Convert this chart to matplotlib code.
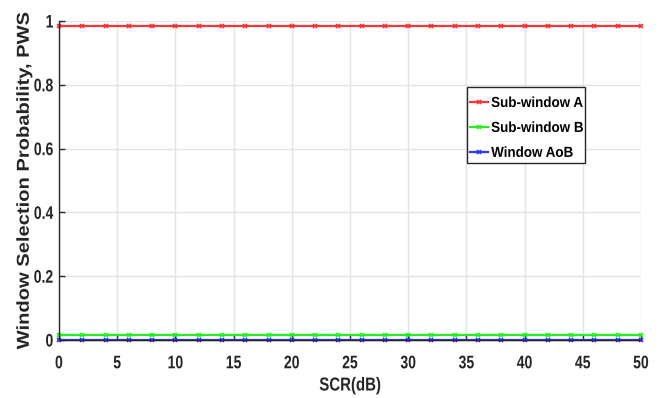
import numpy as np
import matplotlib
matplotlib.use('Agg')
import matplotlib.pyplot as plt
import matplotlib.patheffects as pe
from matplotlib.patches import Rectangle
from matplotlib.transforms import Affine2D

# SCR sweep and window selection probabilities
scr_db = [0, 2, 4, 6, 8, 10, 12, 14, 16, 18, 20, 22, 24, 26, 28, 30,
          32, 34, 36, 38, 40, 42, 44, 46, 48, 50]
pws_a = [0.983] * len(scr_db)
pws_b = [0.017] * len(scr_db)
pws_aob = [0.0] * len(scr_db)


class SqueezeX(pe.AbstractPathEffect):
    """Narrow a text path horizontally (condensed Helvetica look)."""

    def __init__(self, sx, anchor='center'):
        super().__init__()
        self.sx = sx
        self.anchor = anchor

    def draw_path(self, renderer, gc, tpath, affine, rgbFace=None):
        verts = affine.transform(tpath.vertices)
        if len(verts):
            if self.anchor == 'right':
                x0 = verts[:, 0].max()
            elif self.anchor == 'left':
                x0 = verts[:, 0].min()
            else:
                x0 = 0.5 * (verts[:, 0].min() + verts[:, 0].max())
            affine = affine + Affine2D().translate(-x0, 0).scale(self.sx, 1).translate(x0, 0)
        renderer.draw_path(gc, tpath, affine, rgbFace)


font = ['Liberation Sans', 'DejaVu Sans']
ink = '#262626'
W, H = 666, 398

fig = plt.figure(figsize=(W / 100, H / 100), dpi=100)
ax = fig.add_axes([59 / W, 58 / H, 582 / W, 319 / H])

ax.plot(scr_db, pws_a, color='#ff3333', lw=1.6, marker='x', ms=3, mew=1.2,
        label='Sub-window A', clip_on=False)
ax.plot(scr_db, pws_b, color='#22ee22', lw=1.6, marker='x', ms=3, mew=1.2,
        label='Sub-window B', clip_on=False)
ax.plot(scr_db, pws_aob, color='#3333ff', lw=1.6, marker='x', ms=3, mew=1.2,
        label='Window AoB', clip_on=False)

ax.set_xlim(0, 50)
ax.set_ylim(0, 1)
ax.set_xticks(np.arange(0, 51, 5))
ax.set_yticks([0, 0.2, 0.4, 0.6, 0.8, 1])
ax.set_yticklabels(['0', '0.2', '0.4', '0.6', '0.8', '1'])
ax.grid(True, color='#e4e4e4', lw=1)
ax.set_axisbelow(True)

for s in ['top', 'right']:
    ax.spines[s].set_visible(False)
for s in ['left', 'bottom']:
    ax.spines[s].set_color(ink)
    ax.spines[s].set_linewidth(1)

ax.tick_params(direction='in', length=4, width=1, color=ink)
ax.tick_params(axis='x', pad=11)
ax.tick_params(axis='y', pad=4)
for lab in ax.get_xticklabels():
    lab.set_fontfamily(font)
    lab.set_fontweight('bold')
    lab.set_fontsize(13.1)
    lab.set_color(ink)
    lab.set_path_effects([SqueezeX(0.77)])
for lab in ax.get_yticklabels():
    lab.set_fontfamily(font)
    lab.set_fontweight('bold')
    lab.set_fontsize(13.1)
    lab.set_color(ink)
    lab.set_path_effects([SqueezeX(0.77, 'right')])

fig.text(350 / W, 1 - 386 / H, 'SCR(dB)', family=font, fontweight='bold',
         fontsize=13.5, color=ink, ha='center', va='center',
         path_effects=[SqueezeX(0.8)])
fig.text(24 / W, 1 - 181 / H, 'Window Selection Probability, PWS',
         family=font, fontweight='bold', fontsize=14.5, color=ink,
         rotation=90, ha='center', va='center',
         path_effects=[SqueezeX(0.86)])

# legend box (MATLAB-style, tight on the sides)
ax.add_patch(Rectangle((467 / W, 1 - 163 / H), 118 / W, 76 / H,
                       transform=fig.transFigure, facecolor='white',
                       edgecolor=ink, lw=1, zorder=4.5, clip_on=False))
leg = ax.legend(loc='upper left',
                bbox_to_anchor=(470 / W, 1 - 96 / H), bbox_transform=fig.transFigure,
                prop={'family': font, 'weight': 'bold', 'size': 10.5},
                frameon=False, handlelength=1.25, handletextpad=0.2,
                borderpad=0, labelspacing=0.75, borderaxespad=0)
for t in leg.get_texts():
    t.set_color('black')
    t.set_path_effects([SqueezeX(0.92, 'left')])

fig.savefig('out.png', dpi=100)
